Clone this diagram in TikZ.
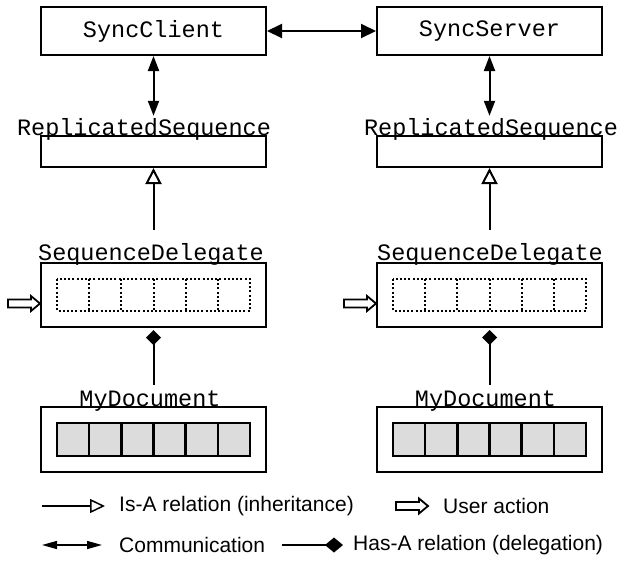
\documentclass[tikz,border=0pt]{standalone}
\usepackage{fontspec}
\setmainfont{Liberation Sans}
\setmonofont{Liberation Mono}
\usetikzlibrary{arrows.meta,calc}

\definecolor{cellgray}{HTML}{DCDCDC}
\tikzset{
  box/.style={draw, line width=2pt, inner sep=0pt, minimum width=225pt},
  cls/.style={font=\fontsize{23.5}{28}\selectfont\ttfamily, inner sep=0pt},
  clslabel/.style={cls, anchor=base},
  legtext/.style={font=\fontsize{21}{25}\selectfont, inner sep=0pt, anchor=west},
  comm/.style={line width=2pt, {Triangle[length=15pt,width=11pt]}-{Triangle[length=15pt,width=11pt]}},
  commwide/.style={line width=2pt, {Triangle[length=15pt,width=14pt]}-{Triangle[length=15pt,width=14pt]}},
  commleg/.style={line width=1.5pt, {Triangle[length=15pt,width=8pt]}-{Triangle[length=15pt,width=8pt]}},
  isa/.style={line width=2pt, -{Triangle[open,length=16pt,width=16pt,fill=white]}},
  isaleg/.style={line width=1.5pt, -{Triangle[open,length=15pt,width=14pt,fill=white]}},
  hasa/.style={line width=2pt, {Diamond[length=15pt,width=15pt]}-},
  hasaleg/.style={line width=1.5pt, -{Diamond[length=18pt,width=15pt]}},
  dotcell/.style={line width=2pt, dash pattern=on 2pt off 2.2pt},
  graycell/.style={draw, line width=2.6pt, fill=cellgray},
  useraction/.pic={
    \draw[line width=1.8pt, line join=miter, fill=white]
      (0,0) -- (-9,-7.5) -- (-9,-4) -- (-32,-4) -- (-32,4) -- (-9,4) -- (-9,7.5) -- cycle;
  }
}

\begin{document}
\begin{tikzpicture}[x=1pt,y=-1pt]
\useasboundingbox (0,0) rectangle (623,560);

% the two replicas: client side (L) and server side (R)
\foreach \c/\cx/\top/\rsx/\sdx/\mdx in
    {L/153.5/SyncClient/144/151/150, R/489.5/SyncServer/491/490/485.5} {
  \node[box, cls, minimum height=48pt] (top\c) at (\cx,31) {\top};

  \node[box, minimum height=31pt] (rs\c) at (\cx,151.5) {};
  \node[clslabel] (rsl\c) at (\rsx,135) {ReplicatedSequence};

  \node[box, minimum height=64pt] (sd\c) at (\cx,295) {};
  \node[clslabel] (sdl\c) at (\sdx,260) {SequenceDelegate};

  \node[box, minimum height=65pt] (md\c) at (\cx,439.5) {};
  \node[clslabel] (mdl\c) at (\mdx,406) {MyDocument};

  % delegate storage (dotted) and document storage (gray cells)
  \draw[dotcell] ($(sd\c.center)+(-96.5,-16)$) rectangle ($(sd\c.center)+(96.5,16)$);
  \foreach \k in {1,...,5}
    \draw[dotcell] ($(sd\c.center)+(-96.5+\k*32.17,-16)$) -- ($(sd\c.center)+(-96.5+\k*32.17,16)$);
  \foreach \k in {0,...,5}
    \draw[graycell] ($(md\c.center)+(-96.5+\k*32.17,-16.5)$) rectangle ++(32.17,33);

  % relations
  \draw[comm, shorten >=2pt] (top\c.south) -- (top\c.south |- rsl\c.north);
  \draw[isa, shorten <=13pt] (rs\c.south |- sdl\c.north) -- (rs\c.south);
  \draw[hasa, shorten <=2pt, shorten >=5pt] (sd\c.south) -- (sd\c.south |- mdl\c.north);

  % user action entering the delegate
  \pic at ($(sd\c.west)+(0,8.5)$) {useraction};
}

% communication between client and server
\draw[commwide] (topL.east) -- (topR.west);

% legend
\coordinate (isaA) at (42,506);
\coordinate (isaB) at (105,506);
\draw[isaleg] (isaA) -- (isaB);
\node[legtext] (isat) at (119,506) {Is-A relation (inheritance)};

\coordinate (uaTip) at (428,506);
\pic at (uaTip) {useraction};
\node[legtext] (uat) at (443,506) {User action};

\coordinate (commA) at (42,545);
\coordinate (commB) at (102,545);
\draw[commleg] (commA) -- (commB);
\node[legtext] (commt) at (119,545) {Communication};

\coordinate (hasaA) at (282,545);
\coordinate (hasaB) at (343,545);
\draw[hasaleg] (hasaA) -- (hasaB);
\node[legtext] (hasat) at (353,545) {Has-A relation (delegation)};
\end{tikzpicture}
\end{document}
